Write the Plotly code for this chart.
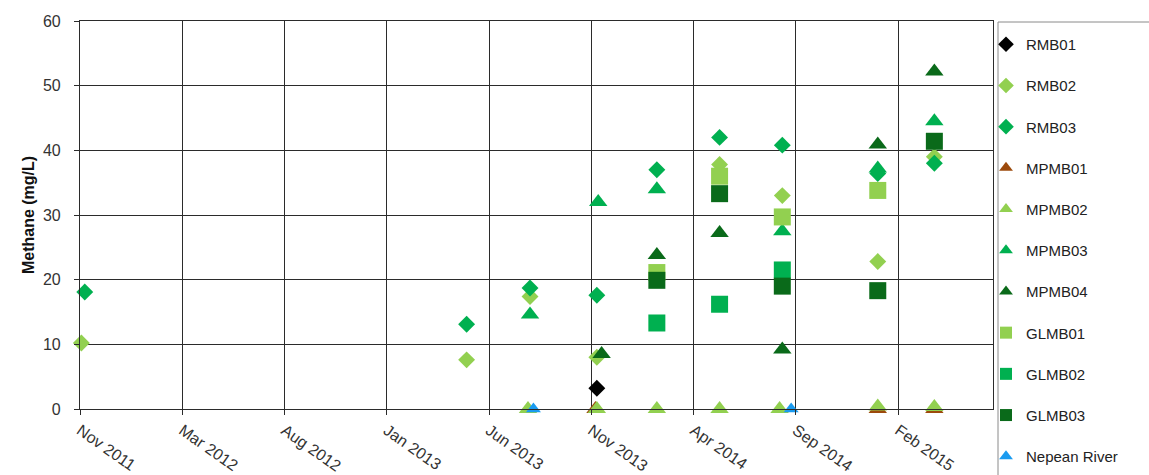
import plotly.graph_objects as go

# Sampling dates and methane concentrations (mg/L) for each monitoring bore
RMB01_dates = ["2013-11-28"]
RMB01_vals = [3.2]

RMB02_dates = ["2011-11-03", "2013-05-21", "2013-08-22", "2013-11-28", "2014-05-27",
               "2014-08-27", "2015-01-14", "2015-04-07"]
RMB02_vals = [10.2, 7.6, 17.4, 8.0, 37.8, 33.0, 22.8, 39.0]

RMB03_dates = ["2011-11-08", "2013-05-21", "2013-08-22", "2013-11-28", "2014-02-24",
               "2014-05-27", "2014-08-27", "2015-01-14", "2015-04-07"]
RMB03_vals = [18.1, 13.1, 18.7, 17.6, 37.0, 42.0, 40.8, 36.4, 38.0]

MPMB01_dates = ["2013-11-26", "2015-01-14", "2015-04-07"]
MPMB01_vals = [0.0, 0.0, 0.0]

MPMB02_dates = ["2013-08-19", "2013-11-28", "2014-02-24", "2014-05-27", "2014-08-23",
                "2015-01-14", "2015-04-07"]
MPMB02_vals = [0.0, 0.0, 0.0, 0.0, 0.0, 0.4, 0.3]

MPMB03_dates = ["2013-08-22", "2013-11-30", "2014-02-24", "2014-08-27", "2015-01-14",
                "2015-04-07"]
MPMB03_vals = [14.6, 32.0, 34.0, 27.5, 37.2, 44.5]

MPMB04_dates = ["2013-12-05", "2014-02-24", "2014-05-27", "2014-08-27", "2015-01-14",
                "2015-04-07"]
MPMB04_vals = [8.5, 23.8, 27.2, 9.2, 40.9, 52.2]

GLMB01_dates = ["2014-02-24", "2014-05-27", "2014-08-27", "2015-01-14"]
GLMB01_vals = [21.1, 36.0, 29.7, 33.8]

GLMB02_dates = ["2014-02-24", "2014-05-27", "2014-08-27"]
GLMB02_vals = [13.3, 16.2, 21.5]

GLMB03_dates = ["2014-02-24", "2014-05-27", "2014-08-27", "2015-01-14", "2015-04-07"]
GLMB03_vals = [19.9, 33.3, 19.0, 18.3, 41.4]

NEPEAN_dates = ["2013-08-27", "2014-09-09"]
NEPEAN_vals = [0.0, 0.0]

Y_TICKS = [0, 10, 20, 30, 40, 50, 60]

LIGHT = "#92D050"
MID = "#00B050"
DARK = "#0A6A1A"

series = [
    ("RMB01", RMB01_dates, RMB01_vals, "diamond", "#000000", 13),
    ("RMB02", RMB02_dates, RMB02_vals, "diamond", LIGHT, 13),
    ("RMB03", RMB03_dates, RMB03_vals, "diamond", MID, 13),
    ("MPMB01", MPMB01_dates, MPMB01_vals, "triangle-up", "#9C4A0C", 16),
    ("MPMB02", MPMB02_dates, MPMB02_vals, "triangle-up", LIGHT, 16),
    ("MPMB03", MPMB03_dates, MPMB03_vals, "triangle-up", MID, 16),
    ("MPMB04", MPMB04_dates, MPMB04_vals, "triangle-up", DARK, 16),
    ("GLMB01", GLMB01_dates, GLMB01_vals, "square", LIGHT, 17),
    ("GLMB02", GLMB02_dates, GLMB02_vals, "square", MID, 17),
    ("GLMB03", GLMB03_dates, GLMB03_vals, "square", DARK, 17),
    ("Nepean River", NEPEAN_dates, NEPEAN_vals, "triangle-up", "#1A9BF0", 13),
]

fig = go.Figure()
for name, xs, ys, sym, col, size in series:
    fig.add_trace(go.Scatter(
        x=xs, y=ys, mode="markers", name=name, legendgroup=name,
        marker=dict(symbol=sym, color=col, size=size, line=dict(width=0)),
        cliponaxis=False,
    ))

FONT = "Liberation Sans, Arial, sans-serif"
GRID = "#2b2b2b"

# plot area spans 80..993 px horizontally and 21..409 px vertically
def px_to_paper_x(px):
    return (px - 80) / 913.0

def px_to_paper_y(py):
    return (409 - py) / 388.0

# legend frame, running off the right and bottom edges of the figure
fig.add_shape(
    type="rect", xref="paper", yref="paper",
    x0=px_to_paper_x(998), x1=px_to_paper_x(1160),
    y0=px_to_paper_y(490), y1=px_to_paper_y(22),
    line=dict(color="#8a8a8a", width=1), fillcolor="rgba(0,0,0,0)",
)

fig.update_layout(
    width=1149, height=475,
    margin=dict(l=80, r=156, t=21, b=66),
    paper_bgcolor="white", plot_bgcolor="white",
    font=dict(family=FONT, size=16, color="#333333"),
    legend=dict(
        x=px_to_paper_x(986), xanchor="left",
        y=px_to_paper_y(28), yanchor="top",
        bgcolor="rgba(0,0,0,0)", borderwidth=0,
        font=dict(family=FONT, size=15, color="#222222"),
        itemsizing="constant", traceorder="grouped", tracegroupgap=18.7,
        itemwidth=30, maxheight=700,
    ),
    xaxis=dict(
        type="date",
        range=["2011-11-01", "2015-07-02"],
        tick0="2011-11-01", dtick=150 * 86400000,
        tickformat="%b %Y", tickangle=35,
        tickfont=dict(size=16),
        showgrid=True, gridcolor=GRID, gridwidth=1.2,
        showline=True, linecolor=GRID, linewidth=1.2, mirror=True,
        ticks="outside", ticklen=5, tickcolor=GRID,
        zeroline=False, automargin=False,
    ),
    yaxis=dict(
        range=[0, 60], tickvals=Y_TICKS,
        tickfont=dict(size=16), ticklabelstandoff=10,
        showgrid=True, gridcolor=GRID, gridwidth=1.2,
        showline=True, linecolor=GRID, linewidth=1.2, mirror=True,
        ticks="outside", ticklen=5, tickcolor=GRID,
        zeroline=False, automargin=False,
        title=dict(text="<b>Methane (mg/L)</b>", font=dict(size=16, color="#111111"),
                   standoff=4),
    ),
)

fig.write_html("out.html")
